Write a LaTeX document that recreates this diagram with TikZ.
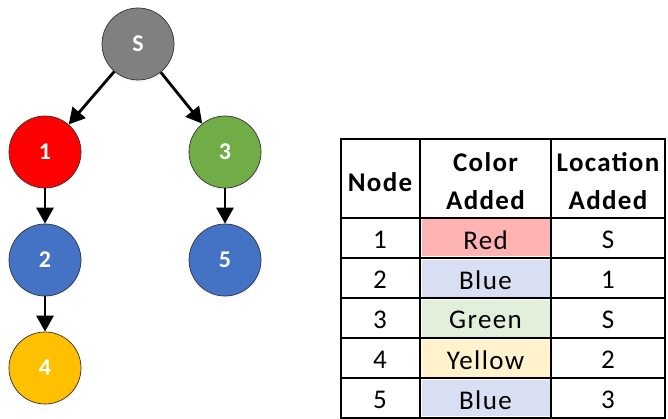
\documentclass[tikz,border=0pt]{standalone}
\usepackage{fontspec}
\setmainfont{Carlito}
\newfontfamily\tabfont{Carlito}[LetterSpace=5]
\usetikzlibrary{arrows.meta,shadows}
\definecolor{cS}{HTML}{808080}
\definecolor{cR}{HTML}{FF0000}
\definecolor{cG}{HTML}{70AD47}
\definecolor{cB}{HTML}{4472C4}
\definecolor{cY}{HTML}{FFC000}
\definecolor{fR}{HTML}{FFB3B3}
\definecolor{fB}{HTML}{D9DFF2}
\definecolor{fG}{HTML}{E2EFDA}
\definecolor{fY}{HTML}{FFF2CC}
\definecolor{glow}{HTML}{C5D3EA}
\tikzset{
  vert/.style={circle,draw=black!80,line width=0.7pt,minimum size=72pt,inner sep=0pt,
    text=white,font=\fontsize{24}{28}\selectfont\bfseries,
    circular drop shadow={shadow xshift=0pt,shadow yshift=-1pt,opacity=0.35,shadow scale=1.06,fill=glow}},
  edge/.style={line width=2.8pt,-{Triangle[length=16pt,width=17pt]}},
  cell/.style={font=\tabfont\fontsize{27}{30}\selectfont,anchor=center,inner sep=0pt},
  hcell/.style={font=\tabfont\fontsize{27}{30}\selectfont\bfseries,anchor=center,inner sep=0pt},
  tline/.style={line width=2pt},
  tborder/.style={line width=2.2pt}
}
\begin{document}
\begin{tikzpicture}[x=1pt,y=-1pt]
\useasboundingbox (0,0) rectangle (668,419);
% tree
\node[vert,fill=cS] (S) at (138,44) {S};
\node[vert,fill=cR] (n1) at (45,152) {1};
\node[vert,fill=cG] (n3) at (225,152) {3};
\node[vert,fill=cB] (n2) at (45,260) {2};
\node[vert,fill=cB] (n5) at (225,260) {5};
\node[vert,fill=cY] (n4) at (45,368) {4};
\draw[edge] (S) -- (n1);
\draw[edge] (S) -- (n3);
\draw[edge] (n1) -- (n2);
\draw[edge] (n3) -- (n5);
\draw[edge] (n2) -- (n4);
% table fills
\fill[fR] (421.5,219.5) rectangle (549.5,256.5);
\fill[fB] (421.5,259.5) rectangle (549.5,296.5);
\fill[fG] (421.5,299.5) rectangle (549.5,336.5);
\fill[fY] (421.5,339.5) rectangle (549.5,376.5);
\fill[fB] (421.5,379.5) rectangle (549.5,416);
% table lines
\draw[tline] (420,139) -- (420,418);
\draw[tline] (551,139) -- (551,418);
\draw[tline] (341,218) -- (665,218);
\draw[tline] (341,258) -- (665,258);
\draw[tline] (341,298) -- (665,298);
\draw[tline] (341,338) -- (665,338);
\draw[tline] (341,378) -- (665,378);
\draw[tborder] (341,139) rectangle (665,418);
% header
\node[hcell] (hN) at (380,182) {Node};
\node[hcell] (hC1) at (485.5,162) {Color};
\node[hcell] (hC2) at (485.5,200) {Added};
\node[hcell] (hL1) at (608,162) {Location};
\node[hcell] (hL2) at (608,200) {Added};
% rows
\node[cell] (r1a) at (380,240) {1};
\node[cell] (r1b) at (485.5,240) {Red};
\node[cell] (r1c) at (608,240) {S};
\node[cell] (r2a) at (380,280) {2};
\node[cell] (r2b) at (485.5,280) {Blue};
\node[cell] (r2c) at (608,280) {1};
\node[cell] (r3a) at (380,320) {3};
\node[cell] (r3b) at (485.5,320) {Green};
\node[cell] (r3c) at (608,320) {S};
\node[cell] (r4a) at (380,360) {4};
\node[cell] (r4b) at (485.5,360) {Yellow};
\node[cell] (r4c) at (608,360) {2};
\node[cell] (r5a) at (380,400) {5};
\node[cell] (r5b) at (485.5,400) {Blue};
\node[cell] (r5c) at (608,400) {3};
\end{tikzpicture}
\end{document}
